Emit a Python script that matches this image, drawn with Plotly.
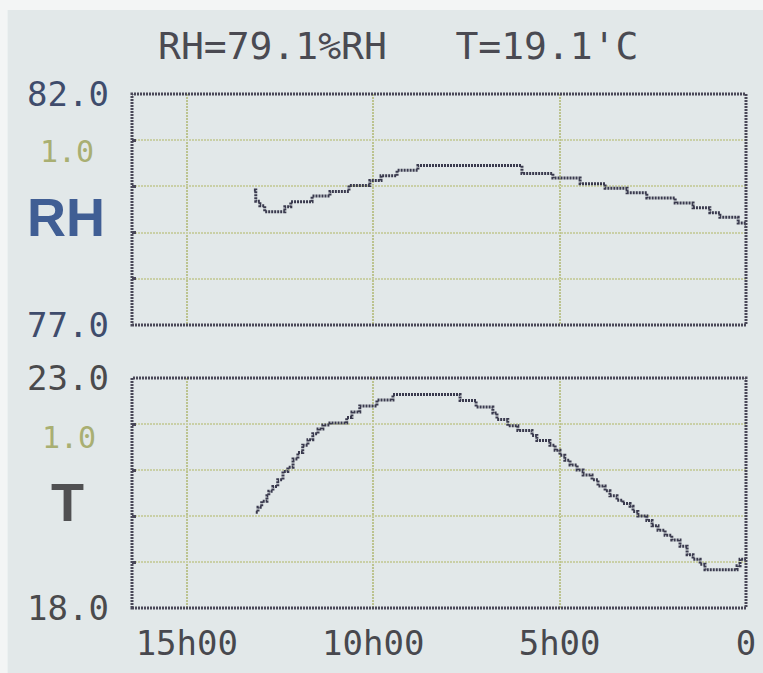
import plotly.graph_objects as go
from plotly.subplots import make_subplots

# ---- data (hours before now) ----
rh_hours = [13.20, 13.15, 13.04, 12.91, 12.37, 12.21, 11.64, 11.16, 10.65, 10.09,
            9.79, 9.36, 8.80, 6.01, 5.18, 4.45, 3.78, 3.19, 2.66, 1.90,
            1.42, 0.97, 0.70, 0.21, 0.0]
rh_vals = [79.92, 79.68, 79.58, 79.45, 79.56, 79.67, 79.79, 79.89, 80.02, 80.13,
           80.23, 80.35, 80.45, 80.28, 80.18, 80.06, 79.96, 79.86, 79.75, 79.64,
           79.54, 79.43, 79.33, 79.21, 79.1]

t_hours = [13.15, 13.09, 12.99, 12.85, 12.80, 12.69, 12.56, 12.42, 12.29, 12.15,
           12.02, 11.89, 11.75, 11.62, 11.48, 11.35, 11.16, 10.71, 10.57, 10.36,
           9.90, 9.47, 7.67, 7.24, 6.79, 6.68, 6.39, 6.12, 5.74, 5.61,
           5.26, 5.12, 4.99, 4.86, 4.72, 4.53, 4.37, 4.13, 3.97, 3.78,
           3.65, 3.46, 3.30, 3.11, 3.03, 2.90, 2.66, 2.52, 2.36, 2.17,
           1.99, 1.77, 1.58, 1.42, 1.23, 1.10, 0.24, 0.16, 0.0]
t_vals = [20.08, 20.19, 20.32, 20.44, 20.54, 20.64, 20.79, 20.97, 21.06, 21.24,
          21.38, 21.54, 21.66, 21.79, 21.89, 21.98, 22.02, 22.14, 22.26, 22.39,
          22.52, 22.64, 22.51, 22.37, 22.24, 22.10, 21.96, 21.86, 21.75, 21.64,
          21.54, 21.43, 21.32, 21.21, 21.11, 21.00, 20.89, 20.79, 20.65, 20.55,
          20.44, 20.34, 20.27, 20.21, 20.10, 20.00, 19.90, 19.79, 19.69, 19.58,
          19.48, 19.34, 19.16, 19.06, 18.95, 18.83, 18.92, 19.06, 19.1]

x_tickvals = [15, 10, 5, 0]
x_ticktext = ["15h00", "10h00", "5h00", "0"]
rh_range = [77.0, 82.0]
t_range = [18.0, 23.0]
rh_step = 1.0
t_step = 1.0

# ---- styling ----
BG = "#e2e8e9"
FRAME = "#4a4858"
GRID = "#c9cfa6"
VGRID = "#bcc38f"
CURVE = "#3a3a4e"
MONO = "DejaVu Sans Mono"
DOT = "2px,1px"

fig = make_subplots(rows=2, cols=1)

fig.add_trace(go.Scatter(x=rh_hours, y=rh_vals, mode="lines", line_shape="hv",
                         line=dict(color=CURVE, width=3, dash=DOT),
                         showlegend=False, hoverinfo="skip"), row=1, col=1)
fig.add_trace(go.Scatter(x=t_hours, y=t_vals, mode="lines", line_shape="hv",
                         line=dict(color=CURVE, width=3, dash=DOT),
                         showlegend=False, hoverinfo="skip"), row=2, col=1)

xdom = [132 / 763, 746 / 763]
top_dom = [1 - 325 / 673, 1 - 94 / 673]
bot_dom = [1 - 608 / 673, 1 - 378 / 673]

def yticks(rng, step):
    vals = []
    v = rng[0]
    while v <= rng[1] + 1e-9:
        vals.append(round(v, 3))
        v += step
    txt = [f"{v:.1f}" if (v == rng[0] or v == rng[1]) else "" for v in vals]
    return vals, txt

rh_tv, rh_tt = yticks(rh_range, rh_step)
t_tv, t_tt = yticks(t_range, t_step)

common_x = dict(range=[16.47, 0], tickvals=x_tickvals, ticktext=x_ticktext,
                showgrid=True, gridcolor=VGRID, gridwidth=2, griddash=DOT,
                zeroline=False, showline=False, ticks="", domain=xdom,
                automargin=False)
common_y = dict(showgrid=True, gridcolor=GRID, gridwidth=2, griddash=DOT,
                zeroline=False, showline=False, ticks="inside", ticklen=4,
                tickwidth=3, tickcolor=FRAME, automargin=False,
                ticklabelstandoff=22)
fig.update_layout(
    xaxis=dict(**common_x, showticklabels=False, anchor="y"),
    xaxis2=dict(**common_x, showticklabels=True, anchor="y2",
                tickfont=dict(family=MONO, size=34, color="#48484e"),
                ticklabelstandoff=12),
    yaxis=dict(**common_y, range=rh_range, tickvals=rh_tv, ticktext=rh_tt,
               domain=top_dom, anchor="x",
               tickfont=dict(family=MONO, size=34, color="#3f4c6c")),
    yaxis2=dict(**common_y, range=t_range, tickvals=t_tv, ticktext=t_tt,
                domain=bot_dom, anchor="x2",
                tickfont=dict(family=MONO, size=34, color="#4a4a4c")),
)

shapes = [
    dict(type="rect", xref="paper", yref="paper", x0=0.01, x1=1.0, y0=0.0, y1=0.985,
         fillcolor=BG, line=dict(width=0), layer="below"),
]
for xr, yr in (("x", "y"), ("x2", "y2")):
    shapes.append(dict(type="rect", xref=f"{xr} domain", yref=f"{yr} domain",
                       x0=0, x1=1, y0=0, y1=1,
                       line=dict(color=FRAME, width=3, dash=DOT), layer="above"))

def ann(text, px, py, size, color, family=MONO):
    return dict(text=text, xref="paper", yref="paper", x=px / 763, y=1 - py / 673,
                xanchor="center", yanchor="middle", showarrow=False,
                font=dict(family=family, size=size, color=color))

annotations = [
    ann(f"RH={rh_vals[-1]:.1f}%RH   T={t_vals[-1]:.1f}'C", 398, 46, 38, "#4a4a52"),
    ann(f"{rh_step:.1f}", 67, 152, 30, "#a9af72"),
    ann("<b>RH</b>", 66, 217, 54, "#405e94", "Liberation Sans"),
    ann(f"{t_step:.1f}", 69, 437, 30, "#a9af72"),
    ann("<b>T</b>", 67, 502, 54, "#505052", "Liberation Sans"),
]

fig.update_layout(width=763, height=673,
                  margin=dict(l=0, r=0, t=0, b=0, autoexpand=False),
                  paper_bgcolor="#f3f5f5", plot_bgcolor=BG,
                  shapes=shapes, annotations=annotations, showlegend=False)

fig.write_html("out.html")
